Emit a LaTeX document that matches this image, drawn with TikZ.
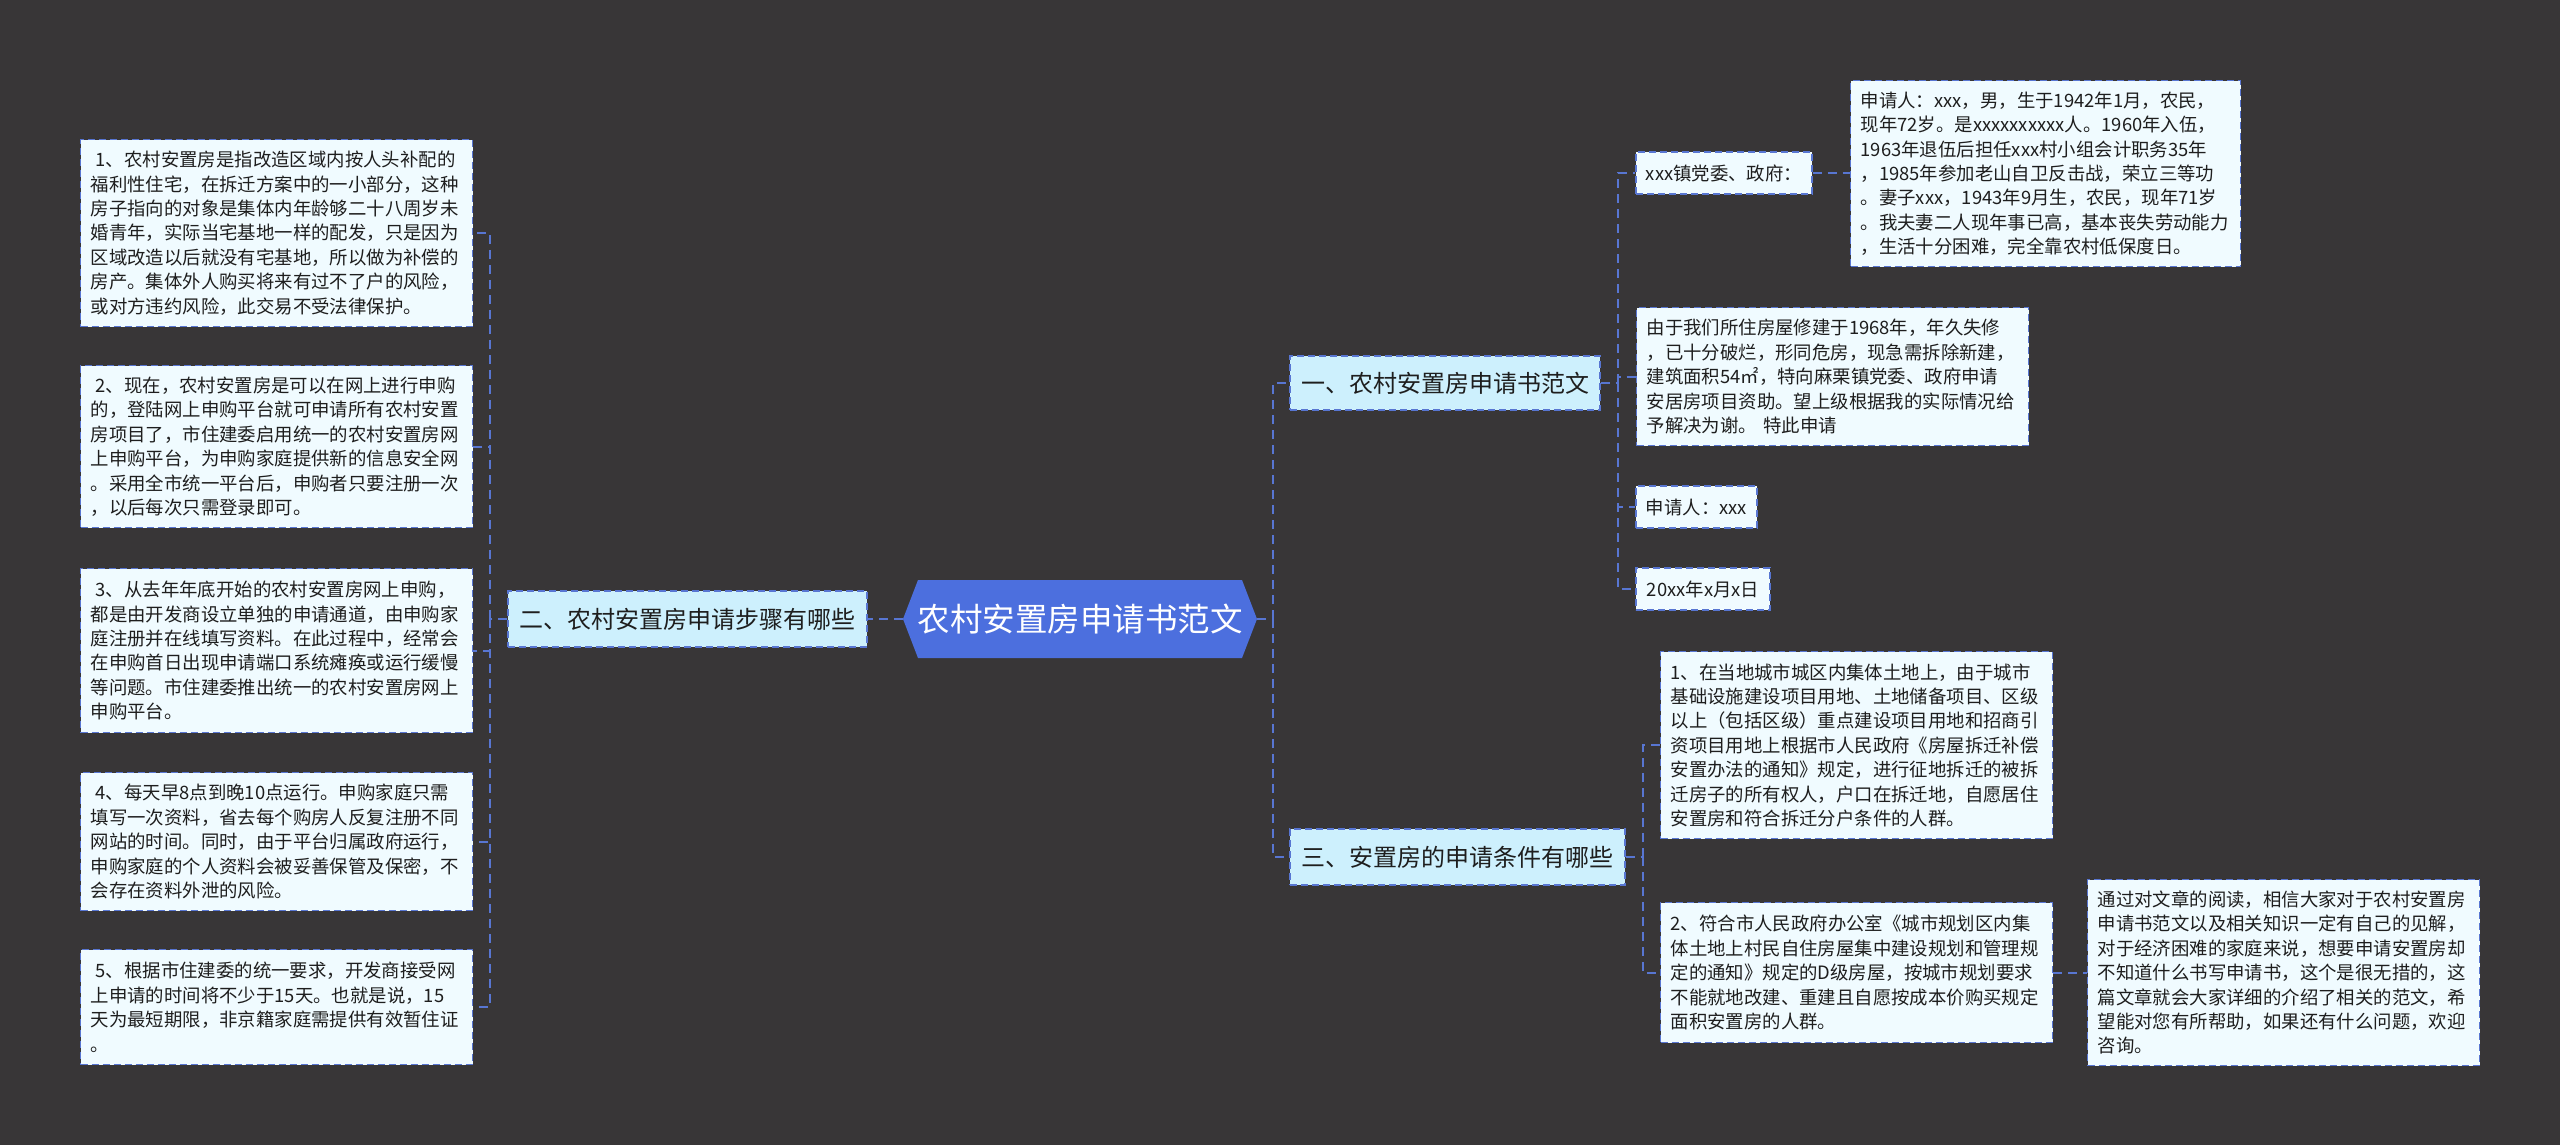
\documentclass[tikz,border=0pt]{standalone}
\usepackage{fontspec}
\setmainfont{Noto Sans CJK SC}
\definecolor{bg}{RGB}{56,54,55}
\definecolor{lc}{RGB}{88,118,210}
\definecolor{leaffill}{RGB}{240,251,255}
\definecolor{brfill}{RGB}{205,240,253}
\definecolor{rootfill}{RGB}{76,111,222}
\definecolor{txt}{RGB}{30,30,30}
\tikzset{
  boxbase/.style={draw=lc, line width=1.4pt, dash pattern=on 7pt off 4pt, text=txt},
  leaf/.style={boxbase, fill=leaffill, font=\fontsize{18.4pt}{24.4pt}\selectfont, align=left, inner xsep=10pt, inner ysep=4pt, anchor=north west, text width=372pt},
  smallbox/.style={boxbase, fill=leaffill, font=\fontsize{18.4pt}{24.4pt}\selectfont, inner xsep=8pt, inner ysep=4pt},
  branch/.style={boxbase, fill=brfill, font=\fontsize{24pt}{28pt}\selectfont, inner sep=4pt},
  roottext/.style={text=white, font=\fontsize{32.5pt}{36pt}\selectfont, inner sep=0pt, minimum width=354pt, minimum height=78pt},
  conn/.style={draw=lc, line width=2.4pt, dash pattern=on 9pt off 6pt},
}
\begin{document}
\begin{tikzpicture}[x=1pt, y=-1pt]
\fill[bg] (0,0) rectangle (2560,1145);
\useasboundingbox (0,0) rectangle (2560,1145);

% root
\fill[rootfill] (903,619) -- (918,580) -- (1242,580) -- (1257,619) -- (1242,658) -- (918,658) -- cycle;
\node[roottext] (root) at (1080,619) {农村安置房申请书范文};

% branches
\node[branch, minimum width=359pt, minimum height=56pt] (b2) at (687.5,619) {二、农村安置房申请步骤有哪些};
\node[branch, minimum width=310pt, minimum height=54pt] (b1) at (1445,383) {一、农村安置房申请书范文};
\node[branch, minimum width=335pt, minimum height=56pt] (b3) at (1457.5,857) {三、安置房的申请条件有哪些};

% left leaves
\node[leaf, minimum height=187pt] (l1) at (80,139) {\hspace*{5pt}1、农村安置房是指改造区域内按人头补配的\\福利性住宅，在拆迁方案中的一小部分，这种\\房子指向的对象是集体内年龄够二十八周岁未\\婚青年，实际当宅基地一样的配发，只是因为\\区域改造以后就没有宅基地，所以做为补偿的\\房产。集体外人购买将来有过不了户的风险，\\或对方违约风险，此交易不受法律保护。};
\node[leaf, minimum height=162pt] (l2) at (80,365) {\hspace*{5pt}2、现在，农村安置房是可以在网上进行申购\\的，登陆网上申购平台就可申请所有农村安置\\房项目了，市住建委启用统一的农村安置房网\\上申购平台，为申购家庭提供新的信息安全网\\。采用全市统一平台后，申购者只要注册一次\\，以后每次只需登录即可。};
\node[leaf, minimum height=164pt] (l3) at (80,568) {\hspace*{5pt}3、从去年年底开始的农村安置房网上申购，\\都是由开发商设立单独的申请通道，由申购家\\庭注册并在线填写资料。在此过程中，经常会\\在申购首日出现申请端口系统瘫痪或运行缓慢\\等问题。市住建委推出统一的农村安置房网上\\申购平台。};
\node[leaf, minimum height=138pt] (l4) at (80,772) {\hspace*{5pt}4、每天早8点到晚10点运行。申购家庭只需\\填写一次资料，省去每个购房人反复注册不同\\网站的时间。同时，由于平台归属政府运行，\\申购家庭的个人资料会被妥善保管及保密，不\\会存在资料外泄的风险。};
\node[leaf, minimum height=115pt] (l5) at (80,949) {\hspace*{5pt}5、根据市住建委的统一要求，开发商接受网\\上申请的时间将不少于15天。也就是说，15\\天为最短期限，非京籍家庭需提供有效暂住证\\。};

% right leaves, branch 1
\node[smallbox, minimum width=176pt, minimum height=42pt] (r11) at (1724,173) {xxx镇党委、政府：};
\node[leaf, text width=370pt, minimum height=186pt] (r11b) at (1850,80) {申请人：xxx，男，生于1942年1月，农民，\\现年72岁。是xxxxxxxxxx人。1960年入伍，\\1963年退伍后担任xxx村小组会计职务35年\\，1985年参加老山自卫反击战，荣立三等功\\。妻子xxx，1943年9月生，农民，现年71岁\\。我夫妻二人现年事已高，基本丧失劳动能力\\，生活十分困难，完全靠农村低保度日。};
\node[leaf, minimum height=138pt] (r12) at (1636,307) {由于我们所住房屋修建于1968年，年久失修\\，已十分破烂，形同危房，现急需拆除新建，\\建筑面积54㎡，特向麻栗镇党委、政府申请\\安居房项目资助。望上级根据我的实际情况给\\予解决为谢。 特此申请};
\node[smallbox, minimum width=121pt, minimum height=42pt] (r13) at (1696.5,507) {申请人：xxx};
\node[smallbox, minimum width=134pt, minimum height=42pt] (r14) at (1703,589) {20xx年x月x日};

% right leaves, branch 3
\node[leaf, minimum height=187pt] (c1) at (1660,651) {1、在当地城市城区内集体土地上，由于城市\\基础设施建设项目用地、土地储备项目、区级\\以上（包括区级）重点建设项目用地和招商引\\资项目用地上根据市人民政府《房屋拆迁补偿\\安置办法的通知》规定，进行征地拆迁的被拆\\迁房子的所有权人，户口在拆迁地，自愿居住\\安置房和符合拆迁分户条件的人群。};
\node[leaf, minimum height=140pt] (c2) at (1660,902) {2、符合市人民政府办公室《城市规划区内集\\体土地上村民自住房屋集中建设规划和管理规\\定的通知》规定的D级房屋，按城市规划要求\\不能就地改建、重建且自愿按成本价购买规定\\面积安置房的人群。};
\node[leaf, minimum height=186pt] (fin) at (2087,879) {通过对文章的阅读，相信大家对于农村安置房\\申请书范文以及相关知识一定有自己的见解，\\对于经济困难的家庭来说，想要申请安置房却\\不知道什么书写申请书，这个是很无措的，这\\篇文章就会大家详细的介绍了相关的范文，希\\望能对您有所帮助，如果还有什么问题，欢迎\\咨询。};

% junction coordinates
\coordinate (lv) at (490,619);
\coordinate (rv) at (1273,619);
\coordinate (v1) at (1618,383);
\coordinate (v3) at (1643,857);

% connectors
\draw[conn] (root.west) -- (b2.east);
\draw[conn] (b2.west) -- (lv);
\foreach \n in {l1,l2,l3,l4,l5} \draw[conn] (lv) |- (\n.east);
\draw[conn] (root.east) -- (rv);
\draw[conn] (rv) |- (b1.west);
\draw[conn] (rv) |- (b3.west);
\draw[conn] (b1.east) -- (v1);
\foreach \n in {r11,r12,r13,r14} \draw[conn] (v1) |- (\n.west);
\draw[conn] (r11.east) -- (r11b.west |- r11.east);
\draw[conn] (b3.east) -- (v3);
\foreach \n in {c1,c2} \draw[conn] (v3) |- (\n.west);
\draw[conn] (c2.east) -- (fin.west |- c2.east);
\end{tikzpicture}
\end{document}
